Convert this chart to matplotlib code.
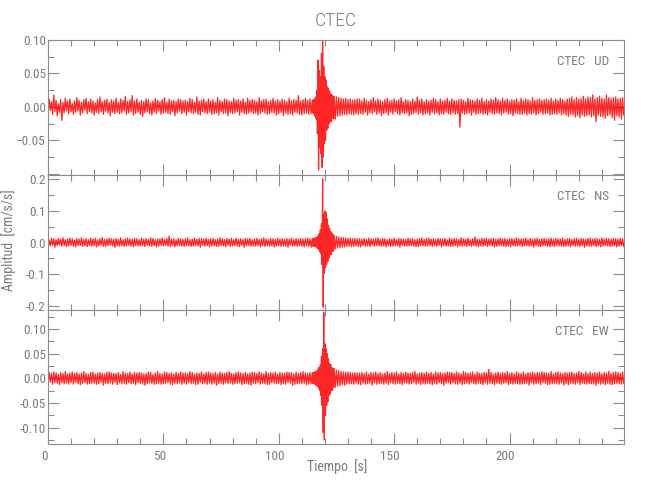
import numpy as np
import matplotlib
matplotlib.use("Agg")
import matplotlib.pyplot as plt
from matplotlib import font_manager
from matplotlib.transforms import ScaledTranslation
from matplotlib.ticker import MultipleLocator, FormatStrFormatter

# Seismogram peaks, in thousandths of cm/s/s.
# pre: 0-114 s and post: 124-249.5 s, one extreme per 0.5 s;
# event: 114.5-123.75 s, one extreme per 0.25 s.
ud_pre = [-9, 12, -5, 8, -11, 18, -7, 10, -13, 5, -8, 11, -20, 7, -9, 13, -6, 9, -10,
          12, -7, 5, -11, 9, -8, 14, -6, 10, -12, 7, -9, 11, -5, 13, -10, 8, -7, 12, -9,
          9, -12, 6, -8, 11, -10, 15, -7, 8, -11, 10, -6, 12, -9, 7, -13, 11, -8, 9, -10,
          13, -8, 7, -10, 12, -9, 10, -6, 16, -11, 8, -9, 11, -7, 17, -12, 9, -10, 12, -8,
          7, -11, 10, -14, 8, -9, 12, -7, 11, -10, 6, -12, 9, -8, 13, -10, 10, -6, 8, -11,
          11, -9, 14, -8, 7, -10, 12, -11, 9, -7, 10, -13, 8, -9, 12, -6, 11, -10, 9, -8,
          10, -12, 8, -7, 13, -9, 11, -10, 7, -8, 15, -11, 9, -12, 10, -7, 12, -9, 8, -10,
          12, -8, 9, -11, 11, -10, 7, -9, 14, -12, 10, -7, 8, -10, 12, -9, 11, -13, 9, -8,
          8, -10, 13, -9, 10, -7, 11, -12, 9, -8, 12, -10, 7, -11, 13, -9, 10, -8, 11, -10,
          10, -9, 8, -12, 14, -10, 9, -7, 11, -9, 12, -11, 8, -10, 10, -8, 13, -9, 9, -12,
          11, -10, 9, -8, 12, -13, 10, -9, 8, -11, 13, -10, 9, -12, 11, -8, 10, -9, 17, -11,
          9, -12, 11, -10, 13, -9, 10, -11, 12, -10]
ud_event = [10, -9, 11, -10, 12, -14, 15, -18,
            25, -40, 70, -94, 55, -60, 45, -70,
            80, -90, 98, -75, 60, -55, 45, -50,
            40, -35, 30, -32, 28, -25, 24, -22,
            20, -22, 18, -17, 16, -18]
ud_post = [16, -18, 15, -14, 14, -13, 13, -12, 12, -11, 13, -12, 11, -10, 12, -11, 10, -12, 11, -10,
           12, -11,
           12, -10, 9, -11, 13, -8, 10, -12, 8, -9, 11, -10, 14, -7, 9, -11, 12, -9, 10, -13,
           8, -10, 11, -9, 13, -12, 9, -8, 10, -11, 12, -7, 9, -10, 11, -12, 14, -9, 8, -10,
           11, -9, 10, -13, 8, -11, 12, -10, 9, -8, 15, -11, 10, -9, 12, -12, 8, -10, 11, -9,
           9, -12, 10, -8, 13, -10, 11, -9, 8, -12, 12, -10, 9, -11, 10, -8, 13, -10, 9, -11,
           12, -9, 10, -11, 9, -10, 11, -30, 12, -9, 10, -11, 8, -10, 13, -9, 11, -12, 10, -8,
           9, -11, 12, -10, 10, -9, 13, -11, 8, -10, 11, -12, 9, -8, 12, -10, 10, -11, 14, -9,
           11, -10, 9, -12, 13, -9, 10, -8, 12, -11, 9, -10, 11, -13, 10, -9, 12, -10, 8, -11,
           13, -11, 10, -9, 12, -12, 11, -10, 9, -11, 14, -9, 10, -12, 11, -10, 12, -8, 10, -11,
           11, -10, 12, -9, 10, -12, 13, -11, 9, -10, 12, -11, 10, -9, 13, -12, 11, -10, 9, -12,
           12, -14, 13, -11, 15, -12, 11, -15, 14, -13, 12, -16, 13, -12, 16, -14, 12, -13, 15, -12,
           14, -15, 18, -13, 12, -22, 14, -12, 16, -14, 13, -15, 12, -17, 18, -13, 14, -12, 13, -16,
           14, -20, 15, -13, 12, -15, 13, -18, 14, -12]

ns_pre = [-13, 8, -11, 14, -9, 12, -15, 9, -10, 13, -8, 11, -12, 15, -10, 9, -13, 12, -11,
          14, -9, 11, -12, 8, -14, 13, -10, 11, -9, 15, -12, 10, -11, 12, -13, 9, -10, 14, -12,
          11, -10, 13, -14, 9, -11, 12, -9, 16, -12, 10, -13, 11, -10, 14, -9, 12, -11, 10, -15,
          13, -11, 10, -12, 15, -10, 9, -13, 12, -11, 14, -9, 11, -12, 10, -14, 13, -10, 12, -11,
          9, -12, 14, -10, 11, -13, 12, -9, 10, -11, 15, -12, 13, -10, 9, -14, 11, -12, 12, -10,
          14, -11, 10, -9, 13, -12, 20, -13, 11, -10, 12, -14, 9, -11, 13, -10, 12, -12, 10, -13,
          12, -10, 15, -11, 9, -13, 11, -12, 14, -10, 10, -11, 13, -15, 12, -9, 11, -12, 14, -10,
          10, -14, 12, -11, 13, -10, 9, -12, 11, -13, 15, -10, 12, -11, 10, -14, 13, -9, 11, -12,
          13, -11, 9, -10, 14, -12, 11, -13, 12, -9, 10, -15, 13, -11, 12, -10, 14, -12, 9, -11,
          11, -12, 13, -10, 10, -14, 12, -11, 15, -13, 11, -10, 9, -12, 13, -11, 12, -14, 10, -12,
          14, -10, 11, -13, 12, -11, 10, -12, 13, -15, 11, -9, 14, -12, 10, -11, 12, -13, 11, -10,
          13, -12, 11, -14, 12, -10, 14, -13, 12, -15]
ns_event = [12, -11, 13, -12, 14, -13, 15, -14,
            16, -18, 20, -22, 28, -30, 40, -35,
            60, -70, 202, -205, 90, -98, 100, -80,
            95, -70, 75, -60, 55, -50, 45, -40,
            35, -38, 30, -28, 25, -26]
ns_post = [22, -20, 20, -18, 17, -16, 16, -15, 15, -14, 14, -13, 13, -12, 14, -13, 12, -12, 13, -11,
           12, -13,
           12, -14, 11, -10, 13, -12, 10, -11, 14, -13, 12, -9, 11, -12, 13, -10, 15, -11, 10, -12,
           13, -11, 12, -14, 9, -10, 12, -13, 11, -12, 14, -10, 10, -11, 13, -15, 12, -9, 11, -12,
           10, -12, 14, -11, 12, -10, 13, -12, 9, -14, 11, -13, 12, -10, 15, -11, 10, -12, 13, -11,
           14, -10, 11, -13, 12, -11, 10, -12, 13, -9, 12, -14, 11, -10, 13, -12, 9, -11, 14, -13,
           11, -12, 13, -10, 12, -14, 10, -11, 15, -12, 12, -10, 11, -13, 14, -11, 9, -12, 12, -10,
           18, -12, 11, -13, 10, -11, 13, -12, 12, -10, 14, -13, 11, -9, 12, -11, 13, -14, 10, -12,
           12, -11, 14, -10, 11, -12, 13, -13, 10, -11, 12, -14, 13, -10, 11, -12, 15, -11, 12, -10,
           11, -13, 12, -11, 14, -10, 10, -12, 13, -11, 11, -15, 12, -10, 14, -12, 10, -13, 12, -11,
           13, -10, 11, -12, 12, -14, 14, -11, 10, -13, 13, -10, 12, -11, 11, -12, 14, -13, 10, -12,
           12, -11, 13, -14, 10, -10, 12, -12, 14, -11, 11, -13, 13, -10, 12, -15, 10, -11, 13, -12,
           14, -12, 11, -10, 13, -13, 12, -11, 10, -14, 15, -12, 11, -10, 13, -11, 12, -13, 11, -12,
           13, -11, 12, -14, 11, -12, 13, -10, 12, -13]

ew_pre = [-11, 12, -8, 10, -12, 13, -9, 11, -10, 8, -13, 12, -9, 10, -11, 14, -10, 9, -12,
          11, -9, 13, -12, 10, -8, 12, -11, 9, -13, 11, -10, 14, -9, 10, -12, 8, -11, 12, -10,
          13, -10, 9, -12, 11, -11, 12, -8, 10, -14, 9, -10, 12, -11, 13, -9, 11, -12, 10, -8,
          10, -13, 12, -9, 8, -11, 14, -10, 11, -12, 10, -9, 13, -11, 9, -10, 12, -13, 11, -9,
          12, -10, 11, -12, 9, -14, 10, -11, 13, -9, 12, -10, 8, -12, 11, -11, 14, -10, 10, -12,
          9, -11, 13, -10, 12, -9, 10, -12, 11, -13, 9, -10, 12, -11, 10, -9, 13, -12, 11, -10,
          11, -12, 10, -9, 14, -11, 12, -10, 9, -13, 11, -12, 10, -8, 13, -11, 9, -10, 12, -12,
          13, -9, 11, -12, 10, -10, 12, -14, 9, -11, 13, -10, 11, -12, 10, -9, 12, -11, 14, -10,
          10, -12, 9, -11, 12, -10, 13, -9, 11, -13, 10, -11, 12, -10, 9, -12, 11, -14, 13, -10,
          12, -11, 10, -9, 13, -12, 11, -10, 9, -11, 14, -13, 10, -12, 12, -9, 11, -10, 13, -11,
          9, -10, 12, -13, 11, -11, 10, -12, 13, -9, 12, -10, 11, -14, 9, -12, 13, -11, 10, -10,
          12, -11, 14, -10, 11, -13, 10, -12, 12, -11]
ew_event = [11, -10, 12, -11, 13, -12, 14, -15,
            15, -16, 18, -20, 22, -25, 28, -35,
            45, -55, 60, -110, 134, -125, 70, -75,
            60, -55, 50, -48, 40, -35, 30, -32,
            28, -25, 22, -24, 20, -18]
ew_post = [20, -18, 17, -16, 16, -15, 14, -13, 13, -14, 12, -12, 13, -11, 12, -11, 11, -12, 12, -10,
           11, -12,
           11, -13, 12, -10, 10, -12, 13, -11, 9, -10, 12, -14, 11, -9, 13, -12, 10, -11, 12, -10,
           9, -12, 11, -10, 14, -13, 10, -9, 12, -11, 11, -12, 13, -10, 9, -11, 12, -13, 10, -9,
           13, -10, 11, -12, 10, -11, 12, -9, 14, -12, 9, -10, 11, -13, 12, -11, 10, -12, 13, -10,
           10, -11, 12, -13, 9, -10, 13, -12, 11, -9, 12, -11, 10, -14, 11, -10, 13, -9, 12, -12,
           12, -9, 10, -11, 13, -12, 11, -10, 9, -13, 14, -11, 12, -10, 10, -12, 11, -9, 13, -11,
           9, -12, 13, -10, 11, -11, 10, -13, 12, -9, 11, -12, 18, -10, 12, -11, 9, -13, 11, -10,
           13, -11, 10, -12, 12, -10, 11, -9, 14, -13, 10, -11, 12, -12, 9, -10, 13, -11, 11, -12,
           10, -12, 13, -11, 9, -10, 12, -14, 11, -9, 13, -12, 10, -11, 12, -10, 11, -13, 14, -9,
           12, -10, 11, -13, 10, -12, 14, -11, 9, -10, 12, -11, 13, -12, 11, -9, 10, -14, 12, -11,
           11, -13, 12, -10, 13, -11, 10, -12, 11, -9, 14, -13, 12, -10, 9, -11, 13, -12, 10, -11,
           13, -11, 10, -12, 12, -14, 11, -10, 13, -12, 9, -11, 12, -13, 11, -10, 14, -12, 10, -13,
           12, -11, 13, -10, 12, -11, 10, -12, 13, -10]

station = "CTEC"
components = ["UD", "NS", "EW"]

GRAY = "#8c8c8c"
TXT = "#7c7c7c"

# pick a narrow sans if the machine has one, else plain DejaVu Sans
available = {f.name for f in font_manager.fontManager.ttflist}
families = [n for n in ["Liberation Sans Narrow", "Roboto Condensed", "Open Sans Condensed"]
            if n in available]
plt.rcParams["font.family"] = families + ["DejaVu Sans"]

# sample times: 0.5 s outside the event, 0.25 s inside it
t = np.concatenate([np.arange(0, 114.5, 0.5), np.arange(114.5, 124, 0.25), np.arange(124, 250, 0.5)])
traces = [np.array(ud_pre + ud_event + ud_post) * 1e-3,
          np.array(ns_pre + ns_event + ns_post) * 1e-3,
          np.array(ew_pre + ew_event + ew_post) * 1e-3]

fig = plt.figure(figsize=(6.5, 5), dpi=100)
left, width = 48 / 650, 576 / 650
boxes = [(40, 175), (175, 310), (310, 444)]
ylims = [(-0.1015, 0.1), (-0.214, 0.214), (-0.1333, 0.1388)]
majors = [0.05, 0.1, 0.05]
fmts = ["%.2f", "%.1f", "%.2f"]
shift = ScaledTranslation(-4 / 100, 0, fig.dpi_scale_trans)

axes = []
for i, comp in enumerate(components):
    top, bot = boxes[i]
    ax = fig.add_axes([left, 1 - bot / 500, width, (bot - top) / 500])
    ax.plot(t, traces[i], color="red", lw=0.9, alpha=0.85)
    ax.set_xlim(0, 249.6)
    ax.set_ylim(*ylims[i])
    ax.xaxis.set_major_locator(MultipleLocator(50))
    ax.xaxis.set_minor_locator(MultipleLocator(10))
    ax.yaxis.set_major_locator(MultipleLocator(majors[i]))
    ax.yaxis.set_minor_locator(MultipleLocator(majors[i] / 2))
    ax.yaxis.set_major_formatter(FormatStrFormatter(fmts[i]))
    ax.tick_params(which="both", direction="in", top=True, right=True,
                   color=GRAY, labelcolor=TXT, labelsize=9.5, width=0.8)
    ax.tick_params(axis="y", pad=1.5)
    ax.tick_params(axis="x", pad=4)
    ax.tick_params(which="major", length=8)
    ax.tick_params(which="minor", length=4)
    for s in ax.spines.values():
        s.set_color(GRAY)
        s.set_linewidth(0.8)
    if i < 2:
        ax.tick_params(labelbottom=False)
    ax.text(0.974, 0.84, f"{station}   {comp}", transform=ax.transAxes,
            ha="right", va="center", color=TXT, fontsize=9.5)
    axes.append(ax)

# top panel: -0.10 label is hidden behind the panel below
axes[0].set_yticks([-0.10, -0.05, 0.0, 0.05, 0.10])
axes[0].set_yticklabels(["", "\u22120.05", "0.00", "0.05", "0.10"])

# x labels sit a little left of their ticks in the original
for lab in axes[2].get_xticklabels():
    lab.set_transform(lab.get_transform() + shift)

fig.text(336 / 650, 1 - 21 / 500, station, ha="center", va="center", color=TXT,
         fontsize=14, fontweight="light")
fig.text(337 / 650, 1 - 467 / 500, "Tiempo  [s]", ha="center", va="center", color=TXT, fontsize=10)
fig.text(9 / 650, 1 - 240 / 500, "Amplitud  [cm/s/s]", ha="center", va="center",
         rotation=90, color=TXT, fontsize=10)

fig.savefig("out.png", dpi=100)
